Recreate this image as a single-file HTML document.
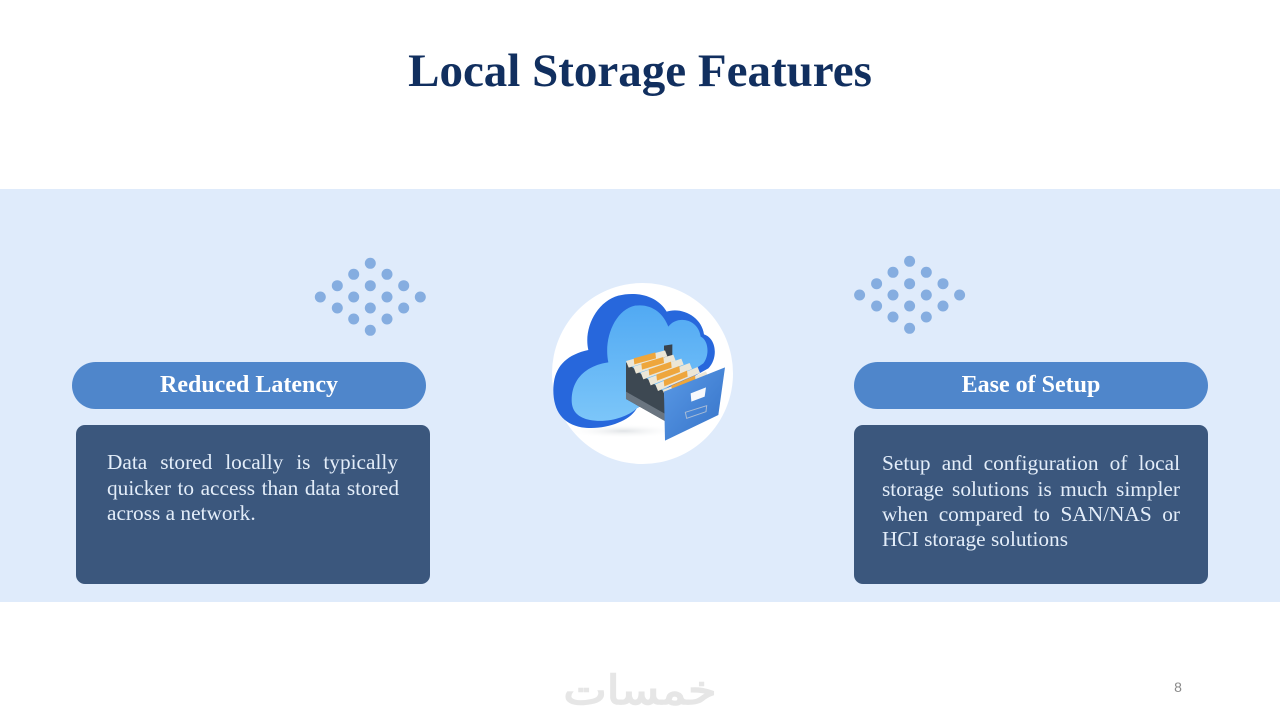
<!DOCTYPE html>
<html>
<head>
<meta charset="utf-8">
<style>
html,body{margin:0;padding:0;background:#fff}
#p{position:relative;width:1280px;height:720px;overflow:hidden;background:#fff;font-family:"Liberation Serif",serif}
.a{position:absolute}
.band{left:0;top:189px;width:1280px;height:413px;background:#dfebfb}
.title{left:0;width:1280px;top:41px;text-align:center;font-size:47px;line-height:60px;font-weight:bold;color:#112f5f;white-space:nowrap}
.pill{height:47px;top:362px;width:354px;border-radius:23.5px;background:#4f86cb;color:#fff;font-weight:bold;font-size:24px;line-height:47px;text-align:center}
.box{top:425px;height:159px;border-radius:9px;background:#3b577d}
.l{color:#e3edf9;font-size:21.33px;line-height:24px;white-space:nowrap;height:24px;text-align:justify;text-align-last:justify}
.n{text-align-last:left}
svg{position:absolute;left:0;top:0}
</style>
</head>
<body>
<div id="p">
<div class="a band"></div>
<div class="a title">Local Storage Features</div>
<div class="a pill" style="left:72px">Reduced Latency</div>
<div class="a pill" style="left:854px">Ease of Setup</div>
<div class="a box" style="left:76px;width:354px"></div>
<div class="a box" style="left:854px;width:354px"></div>
<div class="a l" style="left:107px;top:450px;width:291px">Data stored locally is typically</div>
<div class="a l" style="left:107px;top:476px;width:292px">quicker to access than data stored</div>
<div class="a l n" style="left:107px;top:501px;width:292px">across a network.</div>
<div class="a l" style="left:882px;top:451px;width:298px">Setup and configuration of local</div>
<div class="a l" style="left:882px;top:477px;width:298px">storage solutions is much simpler</div>
<div class="a l" style="left:882px;top:502px;width:298px">when compared to SAN/NAS or</div>
<div class="a l n" style="left:882px;top:527px;width:298px">HCI storage solutions</div>
<svg width="1280" height="720" viewBox="0 0 1280 720">
<defs>
<g id="d" fill="#85ade0">
<circle cx="370.3" cy="263.3" r="5.5"/>
<circle cx="353.7" cy="274.3" r="5.5"/><circle cx="387" cy="274.3" r="5.5"/>
<circle cx="337.3" cy="285.7" r="5.5"/><circle cx="370.3" cy="285.7" r="5.5"/><circle cx="403.7" cy="285.7" r="5.5"/>
<circle cx="320.3" cy="297" r="5.5"/><circle cx="353.7" cy="297" r="5.5"/><circle cx="387" cy="297" r="5.5"/><circle cx="420.3" cy="297" r="5.5"/>
<circle cx="337.3" cy="308" r="5.5"/><circle cx="370.3" cy="308" r="5.5"/><circle cx="403.7" cy="308" r="5.5"/>
<circle cx="353.7" cy="319" r="5.5"/><circle cx="387" cy="319" r="5.5"/>
<circle cx="370.3" cy="330.3" r="5.5"/>
</g>
<linearGradient id="inner" gradientUnits="userSpaceOnUse" x1="0" y1="100" x2="0" y2="440"><stop offset="0" stop-color="#52aaf3"/><stop offset="1" stop-color="#7cc6f9"/></linearGradient>
<linearGradient id="front" x1="0" y1="0" x2="1" y2="1"><stop offset="0" stop-color="#5a9ae6"/><stop offset="1" stop-color="#3572c8"/></linearGradient>
<radialGradient id="sh" cx=".5" cy=".5" r=".5"><stop offset="0" stop-color="#9aa4ad" stop-opacity=".3"/><stop offset="1" stop-color="#fff" stop-opacity="0"/></radialGradient>
</defs>
<use href="#d"/>
<use href="#d" x="539.3" y="-2"/>
<circle cx="642.5" cy="373.5" r="90.5" fill="#fff"/>
<g transform="translate(540 275) scale(.33333)">
<ellipse cx="250" cy="468" rx="170" ry="22" fill="url(#sh)"/>
<path fill="#2767dc" d="M40 345C40 280 75 240 145 225C130 160 170 80 235 62C290 48 352 62 380 110C425 95 485 125 492 178C530 190 535 250 505 280L290 400C270 440 190 467 125 457C70 447 40 410 40 345Z"/>
<path fill="url(#inner)" d="M95 375C95 315 135 272 205 262C190 190 225 105 285 92C335 85 370 115 385 155C410 120 475 130 482 185C505 195 510 240 490 265L290 400C265 425 205 445 150 435C115 428 95 410 95 375Z"/>
<path fill="#39434d" d="M372 212L397 208L397 250L372 260Z"/>
<path fill="#3d4852" d="M258 262L372 350L378 440L258 372Z"/>
<path fill="#6a7580" d="M258 350L378 418L378 440L258 372Z"/>
<g fill="#ece6d6">
<path d="M258 258L375 226L382 244L266 278Z"/>
<path d="M280 275L400 239L407 257L288 296Z"/>
<path d="M302 293L424 251L431 269L310 313Z"/>
<path d="M324 310L449 264L456 282L332 331Z"/>
<path d="M346 328L473 276L480 294L354 348Z"/>
<path d="M368 345L498 289L505 307L376 365Z"/>
</g>
<g fill="#eea63c">
<path d="M281 250L346 232L348 250L283 268Z"/>
<path d="M304 266L370 246L372 264L306 284Z"/>
<path d="M326 283L393 260L395 278L328 301Z"/>
<path d="M349 299L418 273L420 291L351 317Z"/>
<path d="M371 316L441 287L443 305L373 334Z"/>
<path d="M394 332L465 301L467 319L396 350Z"/>
</g>
<path fill="url(#front)" d="M372 350L555 277L535 420L375 497Z"/>
<path fill="#f7f9fc" d="M452 355L498 337L494 365L454 380Z"/>
<path fill="none" stroke="#a8bcd6" stroke-width="3" d="M436 412L500 392L498 410L440 430Z"/>
</g>
<text x="640" y="704" text-anchor="middle" font-family="'DejaVu Sans',sans-serif" font-size="40" fill="#e6e6e6" stroke="#e6e6e6" stroke-width="1.6" textLength="153" lengthAdjust="spacingAndGlyphs">خمسات</text>
<text x="1178" y="692" text-anchor="middle" font-family="'Liberation Sans',sans-serif" font-size="14" fill="#8a8a8a">8</text>
</svg>
</div>
</body>
</html>
